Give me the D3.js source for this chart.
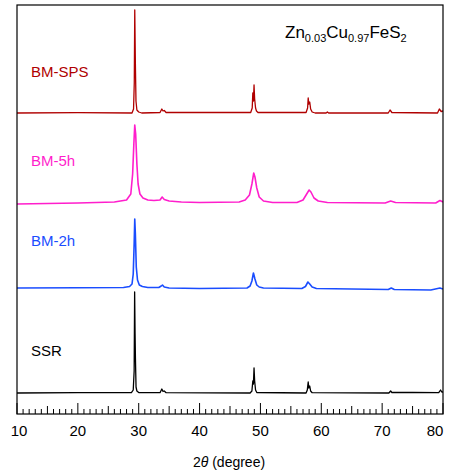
<!DOCTYPE html>
<html>
<head>
<meta charset="utf-8">
<script src="https://cdn.jsdelivr.net/npm/d3@7"></script>
<style>
  body { margin: 0; background: #fff; }
  svg { display: block; }
</style>
</head>
<body>
<svg width="453" height="472"></svg>
<script>
// Pattern points: [2theta, intensity above own baseline]
var ssr = [[10,0],[20,0.3],[28.8,0.3],[29.1,3],[29.25,22],[29.33,101],[29.4,60],[29.46,35],[29.56,6],[29.7,2],[30,0.5],[33.5,0.3],[33.8,4],[34.0,1.5],[34.2,2],[34.5,0.3],
  [48.3,0],[48.6,2],[48.75,12],[48.85,9],[48.95,25],[49.05,12],[49.2,3],[49.4,0.5],[57.5,0],[57.7,3],[57.85,11],[57.95,5],[58.1,7],[58.25,2],[58.5,0.3],
  [71.1,0],[71.4,2],[71.6,0.5],[75,0.5],[79.3,0.3],[79.6,3],[79.8,1],[80,1]];
var bm2h = [[10,1],[20,1.2],[27.5,1.5],[28.5,2.5],[28.9,5],[29.1,15],[29.25,45],[29.35,70],[29.45,55],[29.6,22],[29.8,9],[30.1,4],[30.6,2.5],[31.5,1.5],
  [33.3,1.5],[33.7,3],[33.9,4],[34.2,2],[35,1],[40,0.5],[47.8,1],[48.3,3],[48.6,8],[48.85,16],[49.1,10],[49.4,4],[49.8,2],[50.5,1],
  [56.8,0.5],[57.4,2.5],[57.8,7],[58.1,5],[58.5,2],[59.2,0.5],[65,0],[71,-0.5],[71.5,1],[72,-0.5],[78,-1],[79.5,1],[80,0]];
var bm5h = [[10,0],[20,1],[26,2],[28,4],[28.7,10],[29.0,30],[29.2,60],[29.35,79],[29.5,70],[29.7,40],[29.9,20],[30.2,10],[30.7,6],[31.5,4],[32.5,3.5],[33.5,4],[33.85,7],[34.2,4.5],
  [35,3],[37,2],[40,1.5],[46.5,2],[47.5,4],[48.2,9],[48.6,20],[48.9,31],[49.1,27],[49.4,16],[49.8,7],[50.5,3],[52,1.5],
  [56,1.5],[57,4],[57.6,10],[58.0,14],[58.3,12],[58.8,6],[59.5,3],[61,1.5],[70.5,1],[71.4,3],[72.2,1.5],[78.8,1],[79.5,3.5],[80,2]];
var bmsps = [[10,0],[20,0.3],[28.9,0],[29.15,4],[29.27,30],[29.35,103],[29.45,50],[29.55,12],[29.7,3],[30,1],[30.5,0],[33.5,0.5],[33.8,4],[34.0,2],[34.2,2.5],[34.5,0.5],
  [48.4,0.5],[48.65,5],[48.75,20],[48.85,12],[48.95,28],[49.05,14],[49.2,5],[49.35,2],[49.6,0.5],[57.5,0.5],[57.75,5],[57.85,15],[57.95,9],[58.1,11],[58.25,4],[58.5,1],[59,0],
  [60.8,0],[61.0,1],[61.2,0],[71.0,0],[71.3,3],[71.6,0.5],[79.1,0],[79.4,4],[79.7,1.5],[80,2]];

var names = ["SSR", "BM-2h", "BM-5h", "BM-SPS"];
var offsets = [21, 125, 210, 301];
var colors = ["#000000", "#1a4dff", "#ff1ecc", "#b00000"];
var labelY = [356, 246, 166, 77];
var series = [ssr, bm2h, bm5h, bmsps];
var xTicks = [10, 20, 30, 40, 50, 60, 70, 80];

const svg = d3.select("svg");
const plotL = 17, plotR = 443, plotT = 5, plotB = 414;

const x = d3.scaleLinear().domain([10, 80]).range([plotL, plotR]);
const y = d3.scaleLinear().domain([0, 409]).range([plotB, plotT]);

svg.append("defs").append("clipPath").attr("id", "plot")
  .append("rect").attr("x", plotL).attr("y", plotT).attr("width", plotR - plotL).attr("height", plotB - plotT);

series.forEach(function (pts, i) {
  const line = d3.line()
    .x(d => x(d[0]))
    .y(d => y(d[1] + offsets[i]));
  svg.append("path")
    .datum(pts)
    .attr("d", line)
    .attr("fill", "none")
    .attr("stroke", colors[i])
    .attr("stroke-width", i == 0 || i == 3 ? 1.3 : 1.6)
    .attr("stroke-linejoin", "round")
    .attr("clip-path", "url(#plot)");

  svg.append("text")
    .attr("x", 31)
    .attr("y", labelY[i])
    .attr("fill", colors[i])
    .attr("font-family", "Liberation Sans, Arial, sans-serif")
    .attr("font-size", 15)
    .text(names[i]);
});

// frame
svg.append("rect")
  .attr("x", plotL).attr("y", plotT)
  .attr("width", plotR - plotL).attr("height", plotB - plotT)
  .attr("fill", "none").attr("stroke", "#000").attr("stroke-width", 1.2);

// inward ticks along the bottom, every degree
svg.append("g")
  .selectAll("line")
  .data(d3.range(10, 81, 1))
  .enter().append("line")
  .attr("x1", d => x(d)).attr("x2", d => x(d))
  .attr("y1", plotB)
  .attr("y2", d => plotB - (d % 10 == 0 ? 11 : d % 5 == 0 ? 8 : 5))
  .attr("stroke", "#000").attr("stroke-width", 1);

svg.append("g")
  .selectAll("text")
  .data(xTicks)
  .enter().append("text")
  .attr("x", d => d == 10 ? x(d) + 2 : d == 80 ? x(d) - 8 : x(d))
  .attr("y", 436)
  .attr("text-anchor", "middle")
  .attr("font-family", "Liberation Sans, Arial, sans-serif")
  .attr("font-size", 15)
  .text(d => d);

const xt = svg.append("text")
  .attr("x", 229).attr("y", 467)
  .attr("text-anchor", "middle")
  .attr("font-family", "Liberation Sans, Arial, sans-serif")
  .attr("font-size", 14);
xt.append("tspan").text("2");
xt.append("tspan").attr("font-style", "italic").text("θ");
xt.append("tspan").text(" (degree)");

// compound formula
const ft = svg.append("text")
  .attr("x", 285).attr("y", 38)
  .attr("font-family", "Liberation Sans, Arial, sans-serif")
  .attr("font-size", 17);
ft.append("tspan").text("Zn");
ft.append("tspan").attr("font-size", 11).attr("dy", 4).text("0.03");
ft.append("tspan").attr("dy", -4).text("Cu");
ft.append("tspan").attr("font-size", 11).attr("dy", 4).text("0.97");
ft.append("tspan").attr("dy", -4).text("FeS");
ft.append("tspan").attr("font-size", 11).attr("dy", 4).text("2");
</script>
</body>
</html>
